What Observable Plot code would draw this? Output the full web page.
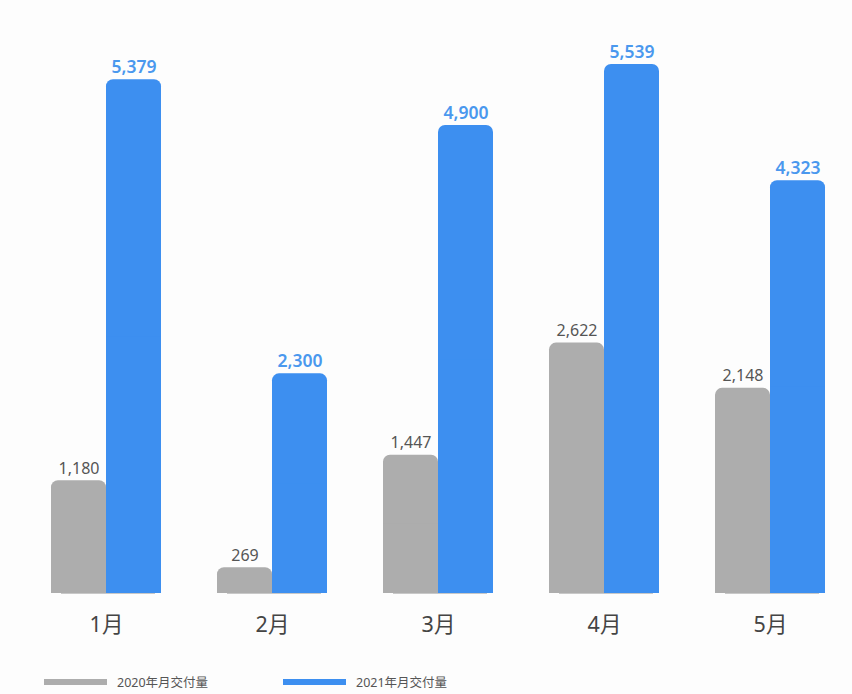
<!DOCTYPE html>
<html>
<head>
<meta charset="utf-8">
<script src="https://cdn.jsdelivr.net/npm/d3@7"></script>
<script src="https://cdn.jsdelivr.net/npm/@observablehq/plot@0.6"></script>
<style>
  html, body { margin: 0; padding: 0; background: #fdfdfd; }
  #chart { width: 852px; font-family: "Noto Sans", "Noto Sans CJK SC", sans-serif; }
  .legend { position: relative; height: 44px; font-size: 12.5px; color: #555; font-family: "Noto Sans", "Noto Sans CJK SC", sans-serif; }
  .legend .item { position: absolute; top: 22px; display: flex; align-items: center; }
  .legend .sw { width: 63px; height: 6px; margin-right: 10px; }
</style>
</head>
<body>
<div id="chart"></div>
<script>
const months = ["1月", "2月", "3月", "4月", "5月"];
const seriesNames = ["2020年月交付量", "2021年月交付量"];
const values2020 = [1180, 269, 1447, 2622, 2148];
const values2021 = [5379, 2300, 4900, 5539, 4323];
const colors = ["#adadad", "#3d8ff0"];
const labelColors = ["#555555", "#4a98ee"];

const data = [];
months.forEach((m, i) => {
  data.push({month: m, series: seriesNames[0], value: values2020[i]});
  data.push({month: m, series: seriesNames[1], value: values2021[i]});
});

const chart = Plot.plot({
  width: 852,
  height: 650,
  marginLeft: 33,
  marginRight: 10,
  marginTop: 20,
  marginBottom: 57,
  style: {background: "#fdfdfd", fontFamily: "'Noto Sans', 'Noto Sans CJK SC', sans-serif"},
  fx: {domain: months, paddingInner: 0.34, paddingOuter: 0.1, label: null},
  x: {domain: seriesNames, padding: 0, axis: null},
  y: {domain: [0, 6000], axis: null},
  color: {domain: seriesNames, range: colors},
  marks: [
    Plot.barY(data, {fx: "month", x: "series", y: "value", fill: "series", rx: 7}),
    Plot.barY(data, {fx: "month", x: "series", y: d => d.value / 2, fill: "series"}),
    Plot.text(data.filter(d => d.series === seriesNames[0]), {
      fx: "month", x: "series", y: "value", text: d => d3.format(",")(d.value),
      lineAnchor: "bottom", dy: -7, fontSize: 16, fill: labelColors[0]
    }),
    Plot.text(data.filter(d => d.series === seriesNames[1]), {
      fx: "month", x: "series", y: "value", text: d => d3.format(",")(d.value),
      lineAnchor: "bottom", dy: -7, fontSize: 17.5, fontWeight: 600, fill: labelColors[1]
    }),
    Plot.ruleY([0], {stroke: "#c8c8c8", strokeWidth: 1.2, facetAnchor: null, insetLeft: 10, insetRight: 6}),
    Plot.axisFx({anchor: "bottom", tickSize: 0, tickPadding: 23, fontSize: 21.5, fill: "#444", label: null})
  ]
});
document.getElementById("chart").appendChild(chart);

const legend = document.createElement("div");
legend.className = "legend";
const lefts = [44, 283];
seriesNames.forEach((s, i) => {
  const item = document.createElement("div");
  item.className = "item";
  item.style.left = lefts[i] + "px";
  const sw = document.createElement("span");
  sw.className = "sw";
  sw.style.background = colors[i];
  const t = document.createElement("span");
  t.textContent = s;
  item.appendChild(sw);
  item.appendChild(t);
  legend.appendChild(item);
});
document.getElementById("chart").appendChild(legend);
</script>
</body>
</html>
